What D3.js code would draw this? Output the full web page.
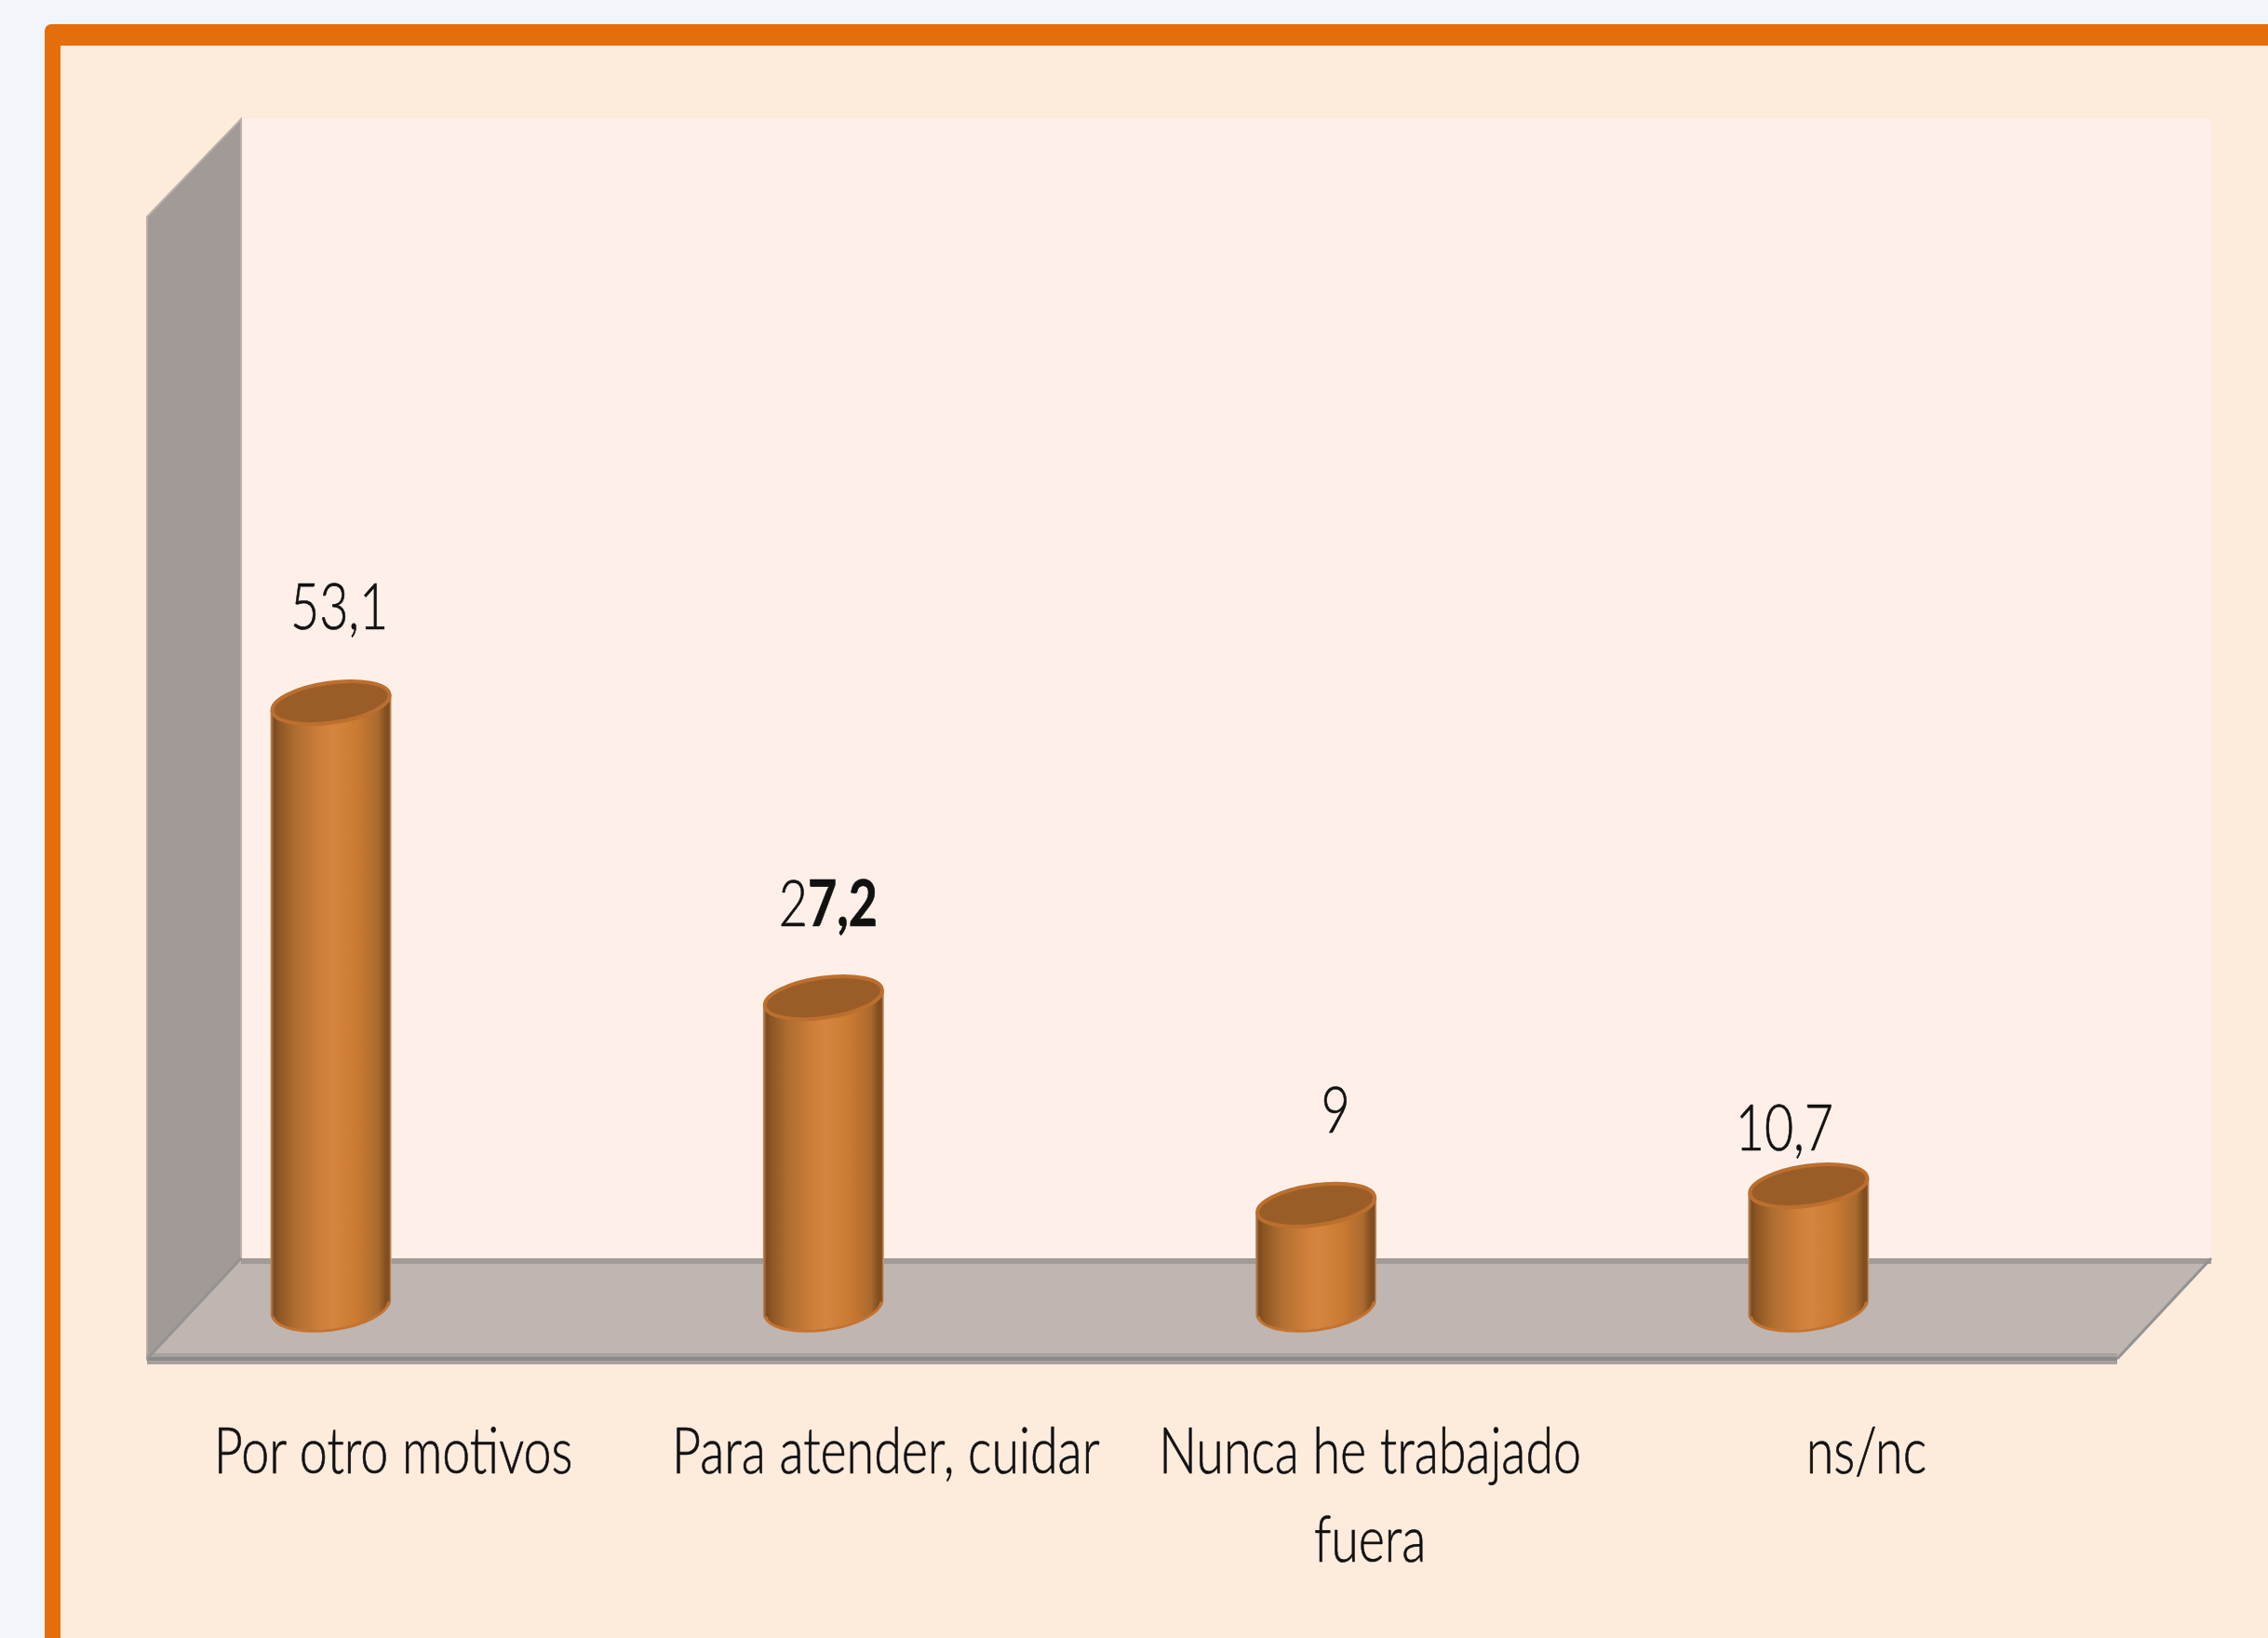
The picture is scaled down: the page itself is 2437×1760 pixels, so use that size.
<!DOCTYPE html>
<html>
<head>
<meta charset="utf-8">
<script src="https://cdn.jsdelivr.net/npm/d3@7"></script>
<style>
  html, body { margin: 0; padding: 0; background: #f2f6fb; overflow: hidden; }
  svg { display: block; }
  text { font-family: Lato, "Open Sans", sans-serif; font-weight: 300; fill: #111; stroke: #111; stroke-width: 0.7px; }
</style>
</head>
<body>
<div id="chart"></div>
<script>
const categories = ['Por otro motivos', 'Para atender, cuidar', 'Nunca he trabajado fuera', 'ns/nc'];
const values = [53.1, 27.2, 9, 10.7];
const valueLabels = ['53,1', '27,2', '9', '10,7'];

const width = 2437, height = 1760;
const svg = d3.select('#chart').append('svg').attr('width', width).attr('height', height);

// frame runs off the right and bottom of the picture
svg.append('rect').attr('x', 48).attr('y', 26).attr('width', 2600).attr('height', 2000).attr('rx', 7).attr('fill', '#e56d0a');
svg.append('rect').attr('x', 65).attr('y', 49).attr('width', 2600).attr('height', 2000).attr('fill', '#fdebdc');

const x = d3.scaleBand().domain(categories).range([158, 2275]);
const y = d3.scaleLinear().domain([0, 100]).range([1405, 181]);

// 3d box, depth measured from the baseline of the bars
const backY = y(0) - 53, frontY = y(0) + 55, topY = y(100) - 53;
const x0 = x.range()[0], x1 = x.range()[1], depthX = 101;

svg.append('rect').attr('x', x0 + depthX).attr('y', topY).attr('width', x1 - x0).attr('height', backY - topY).attr('fill', '#fef0e8');
svg.append('path')
  .attr('d', `M${x0},${topY + 105}L${x0 + depthX},${topY}V${backY}L${x0},${frontY}Z`)
  .attr('fill', '#a29a97').attr('stroke', '#bab0aa').attr('stroke-width', 2);
svg.append('path')
  .attr('d', `M${x0},${frontY}L${x0 + depthX},${backY}H${x1 + depthX}L${x1},${frontY}Z`)
  .attr('fill', '#bfb5b1');
svg.append('rect').attr('x', x0 + depthX).attr('y', backY).attr('width', x1 - x0).attr('height', 6).attr('fill', '#a29a97');
svg.append('rect').attr('x', x0).attr('y', frontY - 6).attr('width', x1 - x0).attr('height', 12).attr('fill', '#a8a19e');
svg.append('rect').attr('x', x0).attr('y', frontY - 2).attr('width', x1 - x0).attr('height', 4).attr('fill', '#8a8a8a');
[[x0, x0 + depthX], [x1, x1 + depthX]].forEach(p => {
  svg.append('line').attr('x1', p[0]).attr('y1', frontY).attr('x2', p[1]).attr('y2', backY)
    .attr('stroke', '#939393').attr('stroke-width', 3);
});

const grad = svg.append('defs').append('linearGradient').attr('id', 'cyl');
[[0, '#c08a5e'], [0.03, '#7b4a1e'], [0.06, '#8a5422'], [0.2, '#ae6d30'], [0.42, '#cf7f39'], [0.52, '#d5853f'],
 [0.72, '#cb7a31'], [0.89, '#aa6a2e'], [0.95, '#825020'], [0.98, '#7f4c20'], [1, '#d8a684']].forEach(s => {
  grad.append('stop').attr('offset', s[0]).attr('stop-color', s[1]);
});

// cylinders: tilted ellipse top and bottom
const rx = 65.6, ry = 23.5, tilt = -8, halfW = 65, tangentY = 8, barShift = -67;
const bars = svg.append('g').selectAll('g').data(categories).enter().append('g')
  .attr('transform', d => `translate(${x(d) + x.bandwidth() / 2 + barShift},0)`);

bars.append('path')
  .attr('d', (d, i) => {
    const t = y(values[i]), b = y(0);
    return `M${-halfW},${t + tangentY}V${b + tangentY}A${rx},${ry} ${tilt} 0 0 ${halfW},${b - tangentY}V${t - tangentY}Z`;
  })
  .attr('fill', 'url(#cyl)');
bars.append('path')
  .attr('d', () => {
    const b = y(0) - 1.5;
    return `M${-halfW + 3},${b + tangentY + 3}A${rx - 3},${ry} ${tilt} 0 0 ${halfW - 3},${b - tangentY + 3}`;
  })
  .attr('fill', 'none').attr('stroke', '#c4732f').attr('stroke-width', 3);
bars.append('ellipse')
  .attr('rx', rx - 2).attr('ry', ry - 2)
  .attr('transform', (d, i) => `translate(0,${y(values[i])}) rotate(${tilt})`)
  .attr('fill', '#9a5d28').attr('stroke', '#bc6f2e').attr('stroke-width', 4);

// value labels sit by hand above each bar in the original
const labelDx = [9, 5, 21, -26], labelDy = [-79, -77, -78, -38];
const squeeze = 0.78;
const valueText = bars.append('text')
  .attr('text-anchor', 'middle')
  .attr('font-size', 69)
  .attr('transform', (d, i) => `translate(${labelDx[i]},${y(values[i]) + labelDy[i]}) scale(${squeeze},1)`);
valueText.each(function(d, i) {
  const t = d3.select(this), s = valueLabels[i];
  if (s === '27,2') {
    t.append('tspan').text(s.slice(0, 1));
    t.append('tspan').attr('font-weight', 700).text(s.slice(1));
  } else {
    t.text(s);
  }
});

// category axis
const axisDx = [0, 0, -9, -5];
const axis = svg.append('g').attr('transform', `translate(0,${frontY})`)
  .call(d3.axisBottom(x).tickSize(0));
axis.select('.domain').remove();
axis.selectAll('text')
  .attr('font-size', 69).attr('fill', '#111').attr('y', 123).attr('dy', 0)
  .attr('transform', (d, i) => `translate(${axisDx[i]},0) scale(${squeeze},1)`)
  .each(function(d) {
    if (d !== 'Nunca he trabajado fuera') return;
    const t = d3.select(this).text(null);
    t.append('tspan').attr('x', 0).text('Nunca he trabajado');
    t.append('tspan').attr('x', 0).attr('dy', 95).text('fuera');
  });
</script>
</body>
</html>
